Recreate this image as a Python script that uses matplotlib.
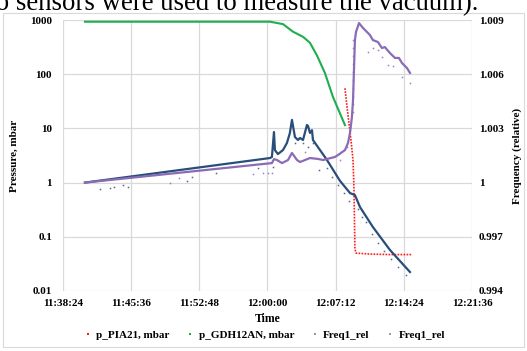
import matplotlib
matplotlib.use("Agg")
import matplotlib.pyplot as plt
import matplotlib.dates as mdates
import matplotlib.ticker as mticker
from matplotlib.lines import Line2D
from matplotlib.patches import Rectangle
import pandas as pd

plt.rcParams['font.family'] = ['Liberation Serif', 'DejaVu Serif']

DAY = "2020-01-01 "

# ---- data ----
x_ticks = ["11:38:24", "11:45:36", "11:52:48", "12:00:00", "12:07:12", "12:14:24", "12:21:36"]
left_ticks = [0.01, 0.1, 1, 10, 100, 1000]
left_labels = ["0.01", "0.1", "1", "10", "100", "1000"]
right_ticks = [0.994, 0.997, 1.000, 1.003, 1.006, 1.009]
right_labels = ["0.994", "0.997", "1", "1.003", "1.006", "1.009"]

green_t = ["11:40:43", "12:00:16", "12:01:38", "12:02:41", "12:03:45", "12:04:29",
           "12:05:14", "12:06:04", "12:06:55", "12:07:39", "12:08:11"]
green_p = [930, 930, 840, 610, 490, 380, 220, 105, 38, 19, 11.5]

red_t = ["12:08:11", "12:08:24", "12:08:36", "12:08:49", "12:09:02", "12:09:08",
         "12:09:14", "12:09:21", "12:10:49", "12:12:56", "12:15:16"]
red_p = [55, 25, 12.6, 6.1, 2.6, 0.8, 0.06, 0.05, 0.048, 0.047, 0.047]

blue_t = ["11:40:43", "12:00:16", "12:00:28", "12:00:41", "12:00:47", "12:01:06", "12:01:38",
          "12:02:03", "12:02:22", "12:02:35", "12:02:54", "12:03:13", "12:03:26", "12:03:45",
          "12:04:10", "12:04:17", "12:04:29", "12:04:42", "12:04:48", "12:06:17", "12:07:39",
          "12:08:43", "12:09:14", "12:09:46", "12:11:08", "12:12:56", "12:15:03"]
blue_f = [1.0000, 1.00136, 1.00142, 1.0028, 1.0018, 1.00158, 1.0018,
          1.00219, 1.00275, 1.00347, 1.00252, 1.00236, 1.00247, 1.00236,
          1.00319, 1.00313, 1.00275, 1.0029, 1.00236, 1.00125, 1.0001,
          0.99942, 0.99931, 0.99865, 0.99754, 0.99627, 0.99505]

purple_t = ["11:40:43", "12:00:28", "12:00:41", "12:01:00", "12:01:32", "12:02:10", "12:02:35",
            "12:03:07", "12:03:26", "12:03:58", "12:04:29", "12:05:20", "12:05:52", "12:07:08",
            "12:07:39", "12:08:11", "12:08:30", "12:08:43", "12:08:55", "12:09:02", "12:09:08",
            "12:09:14", "12:09:21", "12:09:40", "12:10:05", "12:10:30", "12:10:49", "12:11:08",
            "12:11:40", "12:12:05", "12:12:24", "12:12:56", "12:13:28", "12:13:53", "12:14:12",
            "12:14:44", "12:15:03"]
purple_f = [1.0000, 1.00108, 1.0013, 1.00125, 1.00108, 1.00125, 1.00164,
            1.00125, 1.00114, 1.00125, 1.00136, 1.00131, 1.00125, 1.00142,
            1.0016, 1.0018, 1.00219, 1.00275, 1.00363, 1.00457, 1.00623,
            1.00789, 1.00834, 1.00883, 1.00856, 1.00834, 1.00817, 1.00789,
            1.00778, 1.00745, 1.0075, 1.00717, 1.0069, 1.0069, 1.00662,
            1.00634, 1.00607]

blue_dot_t = ["11:42:18", "11:43:22", "11:43:47", "11:44:44", "11:45:16", "11:51:30", "11:52:01",
              "11:54:34", "11:59:00", "12:00:35", "12:02:54", "12:03:45", "12:04:17", "12:04:48",
              "12:05:26", "12:06:17", "12:06:49", "12:07:27", "12:08:05", "12:08:36", "12:09:33",
              "12:09:59", "12:10:24", "12:11:02", "12:11:40", "12:12:18", "12:13:03", "12:13:47",
              "12:14:38"]
blue_dot_f = [0.99965, 0.9997, 0.99976, 0.99987, 0.99976, 1.00009, 1.00031,
              1.00053, 1.00081, 1.00086, 1.00219, 1.00219, 1.00197, 1.00219,
              1.0007, 1.00081, 1.00031, 0.99987, 0.99942, 0.99898, 0.99854,
              0.9981, 0.99782, 0.99716, 0.99666, 0.99621, 0.99577, 0.99533,
              0.99489]

purple_dot_t = ["11:49:42", "11:50:39", "11:58:28", "11:59:31", "12:00:03", "12:00:28", "12:03:58",
                "12:07:39", "12:08:24", "12:09:02", "12:09:02", "12:09:02", "12:09:02", "12:09:02",
                "12:09:02", "12:09:02", "12:09:02", "12:09:02", "12:09:02", "12:10:37", "12:11:08",
                "12:11:40", "12:12:05", "12:12:44", "12:13:15", "12:14:12", "12:15:03"]
purple_dot_f = [0.99998, 1.00025, 1.00048, 1.00053, 1.00053, 1.00053, 1.00169,
                1.00125, 1.00197, 1.00789, 1.00745, 1.00701, 1.00657, 1.00612,
                1.00568, 1.00524, 1.0048, 1.00435, 1.00391, 1.00723, 1.00745,
                1.00734, 1.00695, 1.00651, 1.00645, 1.00584, 1.00551]

series_labels = ["p_PIA21, mbar", "p_GDH12AN, mbar", "Freq1_rel", "Freq1_rel"]
caption = "(two sensors were used to measure the vacuum)."


def T(lst):
    return [pd.Timestamp(DAY + s).to_pydatetime() for s in lst]


RED = "#ff1a1a"
GREEN = "#1fae4e"
BLUE = "#2a4e7a"
PURPLE = "#8a6bb5"
GRID = "#d9d9d9"

W, H = 527, 351
fig = plt.figure(figsize=(W / 100, H / 100), dpi=100)
ax = fig.add_axes([63 / W, 1 - 291 / H, (472 - 63) / W, (291 - 20) / H])
ax2 = ax.twinx()

ax.plot(T(green_t), green_p, color=GREEN, lw=1.5, zorder=3)
ax.plot(T(red_t), red_p, color=RED, lw=1.2, ls=(0, (1, 0.8)), zorder=3)

ax2.plot(T(blue_dot_t), blue_dot_f, ls="none", marker="s", ms=1.1, mew=0, color=BLUE, alpha=0.85)
ax2.plot(T(purple_dot_t), purple_dot_f, ls="none", marker="s", ms=1.1, mew=0, color=PURPLE, alpha=0.85)
ax2.plot(T(blue_t), blue_f, color=BLUE, lw=1.6)
ax2.plot(T(purple_t), purple_f, color=PURPLE, lw=1.6)

ax.set_yscale("log")
ax.set_ylim(0.01, 1000)
ax.set_yticks(left_ticks)
ax.set_yticklabels(left_labels)
ax.yaxis.set_minor_locator(mticker.NullLocator())

ax2.set_ylim(0.994, 1.009)
ax2.set_yticks(right_ticks)
ax2.set_yticklabels(right_labels)

xt = T(x_ticks)
ax.set_xlim(xt[0], xt[-1])
ax.set_xticks(xt)
ax.xaxis.set_major_formatter(mdates.DateFormatter("%H:%M:%S"))

ax.grid(True, color=GRID, lw=0.9)
ax.set_axisbelow(True)
for a in (ax, ax2):
    for s in a.spines.values():
        s.set_visible(False)
    a.tick_params(length=0)

for lab in ax.get_xticklabels() + ax.get_yticklabels() + ax2.get_yticklabels():
    lab.set_fontweight("bold")
    lab.set_fontsize(8)
ax.tick_params(axis="x", pad=6)
ax.tick_params(axis="y", pad=8)
ax2.tick_params(axis="y", pad=5)

ax.set_xlabel("Time", fontsize=8.5, fontweight="bold", labelpad=3)
ax.set_ylabel("Pressure, mbar", fontsize=8, fontweight="bold", labelpad=8)
ax2.set_ylabel("Frequency (relative)", fontsize=8, fontweight="bold", labelpad=6)

handles = [Line2D([], [], ls="none", marker="s", ms=2, mew=0, color=c)
           for c in (RED, GREEN, "#8a9aae", "#a597b8")]
fig.legend(handles, series_labels, loc="center", bbox_to_anchor=(265 / W, 1 - 335 / H),
           ncol=4, frameon=False, prop={"size": 8, "weight": "bold"},
           handlelength=0.5, handletextpad=0.5, columnspacing=1.6)

fig.patches.append(Rectangle((3 / W, 1 - 347 / H), 521 / W, 334 / H,
                             transform=fig.transFigure, fill=False, edgecolor=GRID, lw=0.8))

# caption partly cut off at the top, as in the reference
cap = fig.text(478 / W, 1 - 10 / H, caption, ha="right", va="baseline",
               fontsize=19, color="black")
fig.canvas.draw()
r = fig.canvas.get_renderer()
probe = fig.text(0, 0, "sensors were used to measure the vacuum).", fontsize=19)
w = probe.get_window_extent(r).width
probe.remove()
cap.set_fontsize(19 * 465 / w)

fig.savefig("out.png", dpi=100)
